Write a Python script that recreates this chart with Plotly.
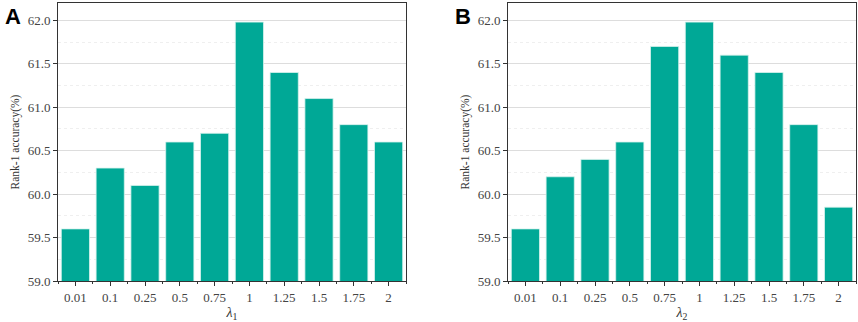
import plotly.graph_objects as go

categories = ["0.01", "0.1", "0.25", "0.5", "0.75", "1", "1.25", "1.5", "1.75", "2"]
acc_lambda1 = [59.6, 60.3, 60.1, 60.6, 60.7, 61.98, 61.4, 61.1, 60.8, 60.6]
acc_lambda2 = [59.6, 60.2, 60.4, 60.6, 61.7, 61.98, 61.6, 61.4, 60.8, 59.85]
y_ticks = [59.0, 59.5, 60.0, 60.5, 61.0, 61.5, 62.0]

BAR = "#00A896"
SERIF = "Liberation Serif, DejaVu Serif, serif"
idx = list(range(len(categories)))

fig = go.Figure()
for data, xa, ya in [(acc_lambda1, "x", "y"), (acc_lambda2, "x2", "y2")]:
    fig.add_trace(go.Bar(x=idx, y=data, width=0.81,
                         marker=dict(color=BAR, line=dict(color="#d8f2ee", width=0.8)),
                         xaxis=xa, yaxis=ya, showlegend=False))

def xax(domain, title):
    return dict(domain=domain, range=[-0.5, 9.5], tickvals=idx, ticktext=categories, automargin=False,
                showline=True, linecolor="#333", linewidth=1, mirror=True,
                ticks="outside", ticklen=4, tickcolor="#333", showgrid=False, zeroline=False,
                minor=dict(tick0=0.5, dtick=1, ticks="outside", ticklen=2, tickcolor="#333"),
                tickfont=dict(family=SERIF, size=13, color="#444"),
                title=dict(text=title, font=dict(family=SERIF, size=14, color="#333"), standoff=2))

def yax(domain, anchor):
    return dict(domain=domain, anchor=anchor, range=[59.0, 62.2], tickvals=y_ticks, tickformat=".1f",
                automargin=False,
                showline=True, linecolor="#333", linewidth=1, mirror=True,
                ticks="outside", ticklen=4, tickcolor="#333",
                showgrid=True, gridcolor="#dddddd", gridwidth=1, zeroline=False,
                minor=dict(dtick=0.25, showgrid=True, gridcolor="#efefef", griddash="dot", gridwidth=1),
                tickfont=dict(family=SERIF, size=13, color="#444"),
                title=dict(text="Rank-1 accuracy(%)", font=dict(family=SERIF, size=11.5, color="#333"), standoff=5))

yd = [1 - 281 / 322, 1 - 3 / 322]
fig.update_layout(
    width=858, height=322, margin=dict(l=0, r=0, t=0, b=0, autoexpand=False),
    paper_bgcolor="white", plot_bgcolor="white",
    xaxis=dict(**xax([58 / 858, 406 / 858], "<i>λ</i><sub>1</sub>"), anchor="y"),
    yaxis=yax(yd, "x"),
    xaxis2=dict(**xax([508 / 858, 856 / 858], "<i>λ</i><sub>2</sub>"), anchor="y2"),
    yaxis2=yax(yd, "x2"),
    annotations=[
        dict(text="<b>A</b>", x=3 / 858, y=1 - 2 / 322, xref="paper", yref="paper", xanchor="left", yanchor="top",
             showarrow=False, font=dict(family="Liberation Sans, Arial, sans-serif", size=22, color="black")),
        dict(text="<b>B</b>", x=453 / 858, y=1 - 2 / 322, xref="paper", yref="paper", xanchor="left", yanchor="top",
             showarrow=False, font=dict(family="Liberation Sans, Arial, sans-serif", size=22, color="black")),
    ],
)
fig.write_html("out.html", config={"displayModeBar": False},
               post_script="document.body.style.margin='0';document.body.style.overflow='hidden';")
